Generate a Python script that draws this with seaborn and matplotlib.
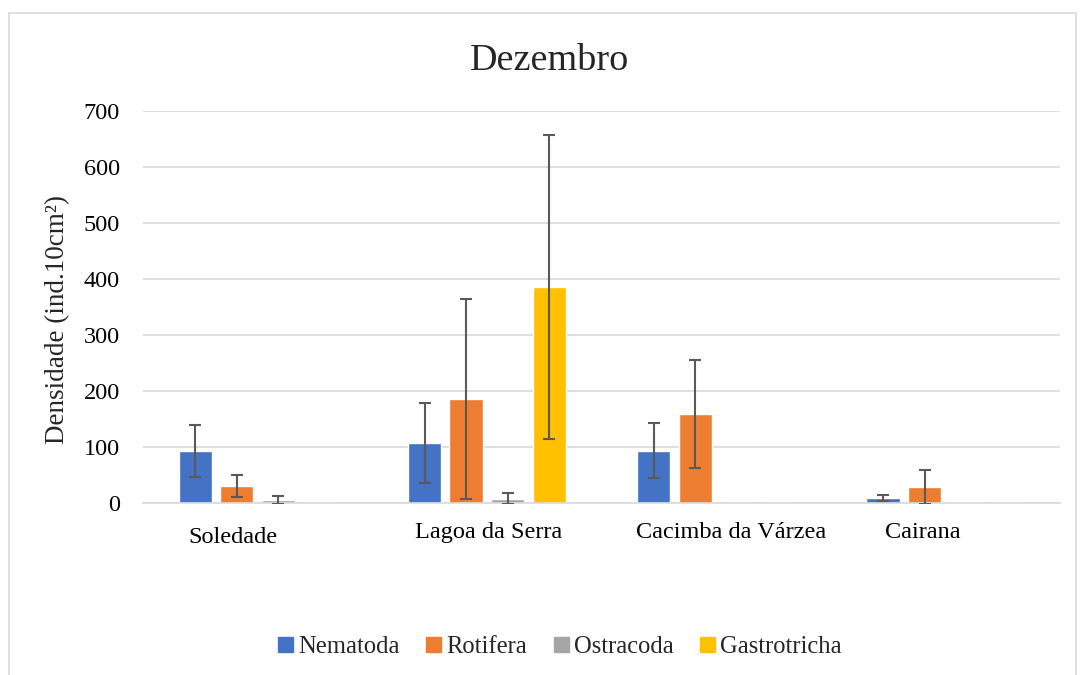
import numpy as np
import pandas as pd
import matplotlib
matplotlib.use("Agg")
import matplotlib.pyplot as plt
import matplotlib.transforms as mtransforms
from matplotlib.patches import Rectangle
import seaborn as sns

# ---- data ----
locais = ["Soledade", "Lagoa da Serra", "Cacimba da Várzea", "Cairana"]
grupos = ["Nematoda", "Rotifera", "Ostracoda", "Gastrotricha"]
nematoda = [93, 107, 93, 9]
rotifera = [30, 186, 159, 29]
ostracoda = [6, 8, 0, 1]
gastrotricha = [0, 386, 0, 0]
sd_nematoda = [47, 71, 49, 6]
sd_rotifera = [20, 178, 96, 30]
sd_ostracoda = [7, 10, np.nan, np.nan]
sd_gastrotricha = [np.nan, 271, np.nan, np.nan]
cores = ["#4472C4", "#ED7D31", "#A5A5A5", "#FFC000"]

medias = [nematoda, rotifera, ostracoda, gastrotricha]
desvios = [sd_nematoda, sd_rotifera, sd_ostracoda, sd_gastrotricha]

rows = []
for g, vals in zip(grupos, medias):
    for loc, v in zip(locais, vals):
        rows.append({"Local": loc, "Grupo": g, "Densidade": v})
df = pd.DataFrame(rows)

sns.set_theme(style="white")
plt.rcParams["font.family"] = ["Liberation Serif", "DejaVu Serif"]

fig = plt.figure(figsize=(10.8, 6.75), dpi=100)
ax = fig.add_axes([143 / 1080, 1 - 503 / 675, (1060 - 143) / 1080, (503 - 111) / 675])

sns.barplot(data=df, x="Local", y="Densidade", hue="Grupo", order=locais,
            hue_order=grupos, palette=cores, errorbar=None, width=0.725,
            gap=0.2, saturation=1, ax=ax, legend=True, zorder=2)

for cont, sds in zip(ax.containers, desvios):
    for bar, sd in zip(cont, sds):
        if np.isnan(sd):
            continue
        xc = bar.get_x() + bar.get_width() / 2
        ax.errorbar(xc, bar.get_height(), yerr=sd, fmt="none",
                    ecolor="#595959", elinewidth=1.5, capsize=4.3,
                    capthick=1.5, zorder=3)

ax.set_xlim(-0.5, len(locais) - 0.5)
ax.set_ylim(0, 700)
ax.set_yticks(np.arange(0, 701, 100))
ax.yaxis.grid(True, color="#d9d9d9", linewidth=1.2, zorder=0)
ax.set_axisbelow(True)
for s in ["top", "right", "left"]:
    ax.spines[s].set_visible(False)
ax.spines["bottom"].set_color("#d9d9d9")
ax.spines["bottom"].set_linewidth(1.2)
ax.tick_params(axis="both", length=0, labelsize=17.5, colors="black")
ax.tick_params(axis="x", pad=14)
ax.tick_params(axis="y", pad=16.5)
ax.set_xlabel("")

# Excel-like placement quirks of the category labels (pixel shifts)
shifts = [(-25, -5), (2, 0), (15, 0), (-23, 0)]
for lab, (dx, dy) in zip(ax.get_xticklabels(), shifts):
    off = mtransforms.ScaledTranslation(dx / 100, dy / 100, fig.dpi_scale_trans)
    lab.set_transform(lab.get_transform() + off)

ax.set_ylabel("Densidade (ind.10cm²)", fontsize=19.5)
ax.yaxis.set_label_coords(-0.08, 0.467)
fig.text(550 / 1080, 1 - 61 / 675, "Dezembro", fontsize=27.5,
         ha="center", va="center")

ax.get_legend().remove()
handles = [Rectangle((0, 0), 1, 1, color=c) for c in cores]
fig.legend(handles, grupos, loc="center", bbox_to_anchor=(560 / 1080, 1 - 647 / 675),
           ncol=4, frameon=False, fontsize=17.7, handlelength=0.6,
           handleheight=0.6, handletextpad=0.2, columnspacing=1.1)

border = Rectangle((9 / 1080, -0.02), (1076 - 9) / 1080, 1 - 13 / 675 + 0.02,
                   transform=fig.transFigure, fill=False, edgecolor="#d9d9d9",
                   linewidth=1.2)
fig.patches.append(border)

fig.savefig("out.png", dpi=100)
